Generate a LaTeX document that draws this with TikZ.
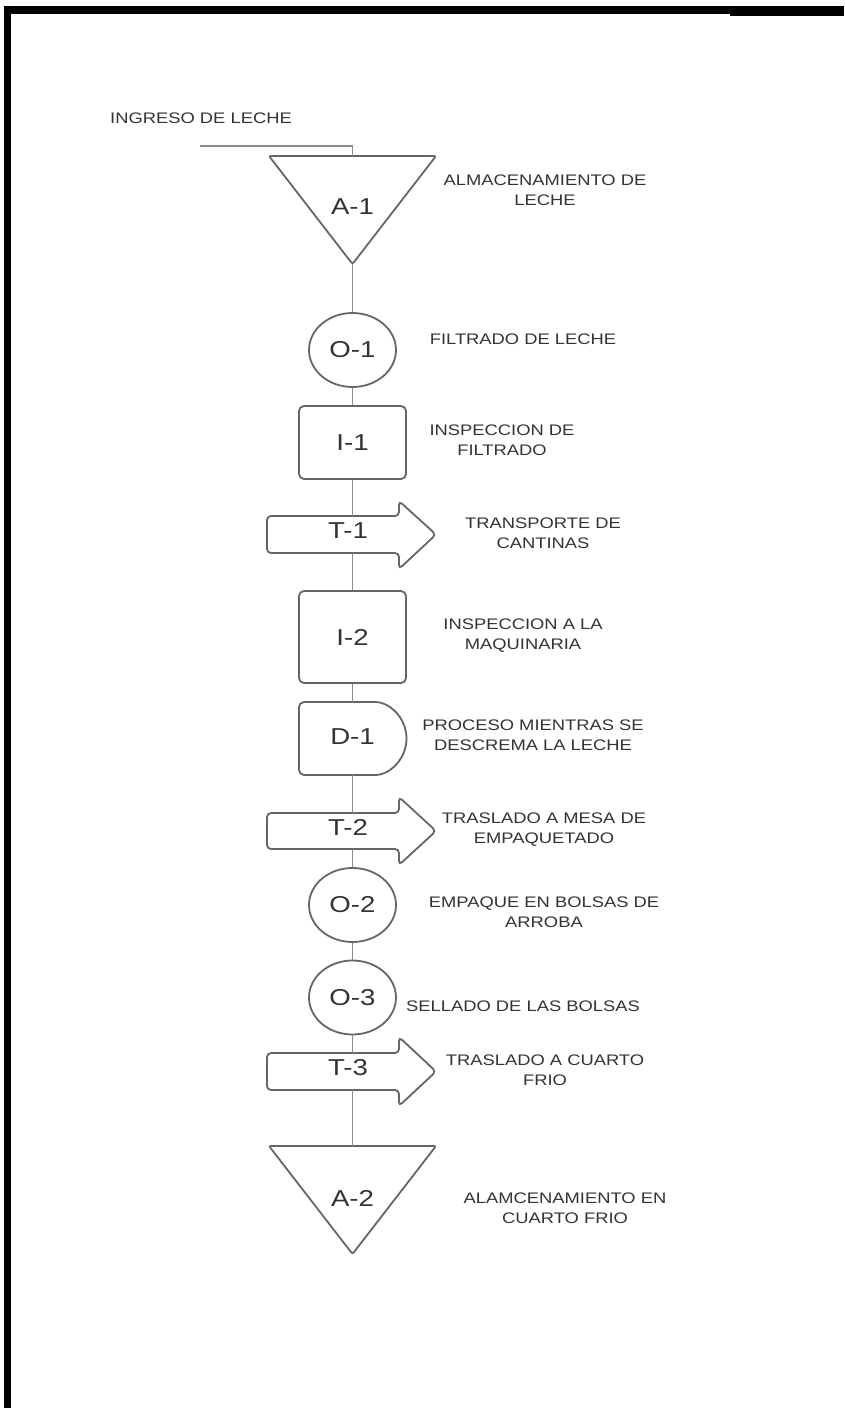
\documentclass[tikz,border=0pt]{standalone}
\usepackage{fontspec}
\setmainfont{Liberation Sans}[FakeStretch=1.2]
\usetikzlibrary{shapes.geometric}
\definecolor{txtcol}{HTML}{333333}
\definecolor{shpcol}{HTML}{666666}
\definecolor{concol}{HTML}{8C8C8C}
\begin{document}
\begin{tikzpicture}[x=1pt,y=-1pt,
  shp/.style={draw=shpcol, line width=1.8pt, fill=white},
  conn/.style={draw=concol, line width=1.4pt},
  sym/.style={font=\fontsize{23}{27}\selectfont, text=txtcol, inner sep=0pt},
  desc/.style={font=\fontsize{15.3}{20}\selectfont, text=txtcol, align=center, inner sep=0pt, anchor=north},
  opc/.style={shp, ellipse, minimum width=87pt, minimum height=74pt, inner sep=0pt, sym},
  insp/.style={shp, rectangle, rounded corners=5pt, minimum width=107pt, inner sep=0pt, sym},
  frame/.style={draw=black, line width=7pt}
]
\useasboundingbox (0,0) rectangle (844,1408);
\fill[white] (0,0) rectangle (844,1408);
% frame
\draw[frame] (7.3,6) -- (7.3,1408);
\fill[black] (4,6) rectangle (844,13.5);
\fill[black] (730,13) rectangle (844,15.5);

% ---- coordinates for drawn shapes
\coordinate (in0) at (200,146);
\coordinate (in1) at (352.5,146);
\coordinate (A1top) at (352.5,156);
\coordinate (A1tip) at (352.5,264);
\coordinate (T1top) at (352.5,516);
\coordinate (T1bot) at (352.5,553);
\coordinate (D1top) at (352.5,702);
\coordinate (D1bot) at (352.5,775);
\coordinate (T2top) at (352.5,813);
\coordinate (T2bot) at (352.5,849);
\coordinate (T3top) at (352.5,1053);
\coordinate (T3bot) at (352.5,1090);
\coordinate (A2top) at (352.5,1146);

% ---- shapes
% A-1
\draw[shp, rounded corners=2pt] (300,156) -- (436,156) -- (A1tip) -- (269,156) -- cycle;
\node[sym] (A1) at (352.5,207) {A-1};
% O-1
\node[opc] (O1) at (352.5,350) {O-1};
% I-1
\node[insp, minimum height=73pt] (I1) at (352.5,442.5) {I-1};
% T-1
\draw[shp, rounded corners=4pt] (300,516) -- (399,516) -- (399,501) -- (436,534.5) -- (399,569) -- (399,553) -- (267,553) -- (267,516) -- cycle;
\node[sym] (T1) at (348,531) {T-1};
% I-2
\node[insp, minimum height=92pt] (I2) at (352.5,637) {I-2};
% D-1
\draw[shp, rounded corners=5pt] (370,702) arc[start angle=-90, end angle=90, radius=36.5] -- (299,775) -- (299,702) -- cycle;
\node[sym] (D1) at (352.5,737) {D-1};
% T-2
\draw[shp, rounded corners=4pt] (300,813) -- (399,813) -- (399,797) -- (436,831) -- (399,865) -- (399,849) -- (267,849) -- (267,813) -- cycle;
\node[sym] (T2) at (348,827) {T-2};
% O-2, O-3
\node[opc] (O2) at (352.5,905) {O-2};
\node[opc] (O3) at (352.5,997.5) {O-3};
% T-3
\draw[shp, rounded corners=4pt] (300,1053) -- (399,1053) -- (399,1037) -- (436,1071.5) -- (399,1106) -- (399,1090) -- (267,1090) -- (267,1053) -- cycle;
\node[sym] (T3) at (348,1068) {T-3};
% A-2
\draw[shp, rounded corners=2pt] (300,1146) -- (436,1146) -- (352.5,1254) -- (269,1146) -- cycle;
\node[sym] (A2) at (352.5,1198) {A-2};

% ---- connectors
\draw[conn] (in0) -- (in1) -- (A1top);
\draw[conn] (A1tip) -- (O1);
\draw[conn] (O1) -- (I1);
\draw[conn] (I1) -- (T1top);
\draw[conn] (T1bot) -- (I2);
\draw[conn] (I2) -- (D1top);
\draw[conn] (D1bot) -- (T2top);
\draw[conn] (T2bot) -- (O2);
\draw[conn] (O2) -- (O3);
\draw[conn] (O3) -- (T3top);
\draw[conn] (T3bot) -- (A2top);

% ---- descriptions
\node[desc] (tin) at (201,112.5) {INGRESO DE LECHE};
\node[desc] (dA1) at (545,175) {ALMACENAMIENTO DE\\LECHE};
\node[desc] (dO1) at (523,333.5) {FILTRADO DE LECHE};
\node[desc] (dI1) at (502,424.5) {INSPECCION DE\\FILTRADO};
\node[desc] (dT1) at (543,517.5) {TRANSPORTE DE\\CANTINAS};
\node[desc] (dI2) at (523,618.5) {INSPECCION A LA\\MAQUINARIA};
\node[desc] (dD1) at (533,719.5) {PROCESO MIENTRAS SE\\DESCREMA LA LECHE};
\node[desc] (dT2) at (544,812.5) {TRASLADO A MESA DE\\EMPAQUETADO};
\node[desc] (dO2) at (544,896.5) {EMPAQUE EN BOLSAS DE\\ARROBA};
\node[desc] (dO3) at (523,1000.5) {SELLADO DE LAS BOLSAS};
\node[desc] (dT3) at (545,1054.5) {TRASLADO A CUARTO\\FRIO};
\node[desc] (dA2) at (565,1192.5) {ALAMCENAMIENTO EN\\CUARTO FRIO};
\end{tikzpicture}
\end{document}
